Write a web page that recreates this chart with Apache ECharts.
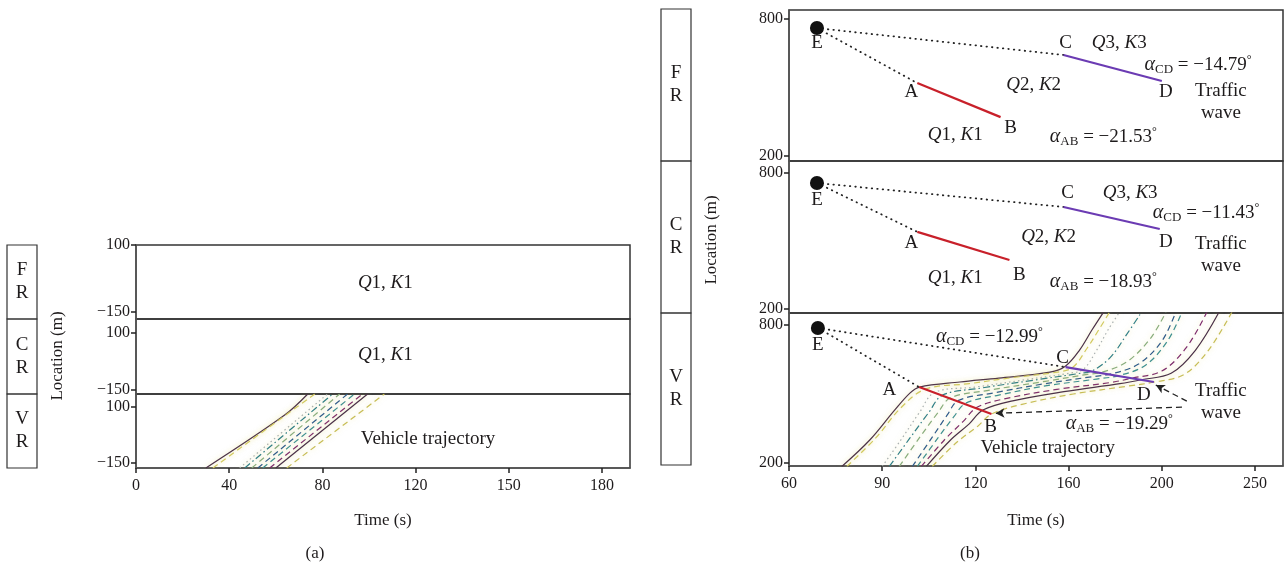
<!DOCTYPE html>
<html><head><meta charset="utf-8">
<script src="https://cdn.jsdelivr.net/npm/echarts@6/dist/echarts.min.js"></script>
<style>html,body{margin:0;padding:0;background:#fff}#c{width:1286px;height:573px}</style>
</head><body><div id="c"></div>
<script>
// ---------- DATA ----------
const ticksA = [0, 40, 80, 120, 150, 180];          // x tick labels panel (a), evenly spaced
const ticksB = [60, 90, 120, 160, 200, 250];        // x tick labels panel (b), evenly spaced
const yTicksA = [100, -150];
const yTicksB = [800, 200];
const rowNames = ['F\nR', 'C\nR', 'V\nR'];
const yRangeA = [[-176, 100], [-167.5, 161.4], [-172.3, 158]];
const yRangeB = [[178, 839], [182, 853], [187, 852]];

// panel (a) VR trajectories [time s, location m]
const trajA = [
  [[30.0, -172], [63.8, 64], [73.7, 158]],
  [[33.0, -172], [76.7, 158]],
  [[44.5, -172], [82.2, 158]],
  [[46.7, -172], [84.4, 158]],
  [[49.7, -172], [87.4, 158]],
  [[52.3, -172], [90.8, 158]],
  [[54.4, -172], [93.8, 158]],
  [[57.4, -172], [97.2, 158]],
  [[60.0, -172], [99.4, 158]],
  [[64.7, -172], [106.6, 158]]
];
// panel (b) VR trajectories
const trajB = [
  [[77,185],[86,300],[94,430],[99,505],[102,530],[115,552],[130,569],[152,595],[158.6,621],[164.7,691],[170,778],[175,856]],
  [[78.6,185],[88,310],[96,440],[103.9,521],[118,545],[135,570],[155,595],[161.7,615],[168,700],[173,780],[177.6,856]],
  [[90,185],[96,300],[102,420],[106.9,507],[120,530],[140,560],[160,590],[166.3,607],[172,690],[177,780],[181.9,856]],
  [[92.3,185],[99,310],[105,420],[109.4,495],[122,525],[145,560],[165,590],[170.1,600],[178,660],[185,760],[191.3,856]],
  [[95.5,185],[102,310],[108,420],[111.9,483],[125,515],[150,555],[168,585],[173.9,593],[185,640],[195,740],[202.2,856]],
  [[99.7,185],[106,310],[111,410],[114.4,471],[128,505],[150,545],[170,575],[177.8,586],[190,630],[200,730],[207.5,856]],
  [[101.3,185],[108,310],[113,400],[116.9,460],[130,495],[150,535],[172,565],[181.6,580],[193,625],[203,730],[210.8,856]],
  [[102.6,185],[110,300],[116,380],[120.7,442],[133,480],[155,520],[178,550],[187.3,569],[200,600],[213,700],[224.2,856]],
  [[104.2,185],[112,300],[118,370],[123.2,430],[136,470],[158,510],[182,545],[191.2,562],[205,590],[218,690],[230.7,856]],
  [[106.1,185],[114,290],[121,360],[126.9,413],[140,455],[162,500],[186,535],[196.9,552],[212,585],[225,690],[237.6,856]]
];
// wave points per row of panel (b)
const pointsE = [[69.0, 760], [69.0, 756], [69.3, 787]];
const pointsA = [[101.3, 519], [101.3, 540], [101.9, 530]];
const pointsB = [[130.8, 370], [134.6, 416], [126.9, 413]];
const pointsC = [[157.8, 642], [157.8, 650], [158.7, 617]];
const pointsD = [[200.0, 528], [199.1, 553], [196.6, 552]];
const arrowsB3 = [[[210.8, 443], [128.6, 416]], [[213.4, 469], [197.4, 539]]];

// annotation texts [text, time, location]
const notesA = [
  [['{i|Q}1, {i|K}1', 107, -42]],
  [['{i|Q}1, {i|K}1', 107, 3]],
  [['Vehicle trajectory', 124, -43]]
];
const notesB = [
  [['E',69.0,694],['A',99.4,480],['B',135.1,322],['C',158.7,694],['D',202.2,480],
   ['{i|Q}3, {i|K}3',181.7,694],['{i|Q}2, {i|K}2',145,510],['{i|Q}1, {i|K}1',113.5,292],
   ['{a|α}{s|AB} = −21.53{d|°}',174.9,283],['{a|α}{s|CD} = −14.79{d|°}',219.4,598],['Traffic\nwave',231.7,436]],
  [['E',69.0,681],['A',99.4,491],['B',138.9,350],['C',159.6,712],['D',202.2,496],
   ['{i|Q}3, {i|K}3',186.4,712],['{i|Q}2, {i|K}2',151.4,518],['{i|Q}1, {i|K}1',113.5,337],
   ['{a|α}{s|AB} = −18.93{d|°}',174.9,319],['{a|α}{s|CD} = −11.43{d|°}',223.7,624],['Traffic\nwave',231.7,438]],
  [['E',69.3,713],['A',92.3,517],['B',126.5,356],['C',157.4,656],['D',192.3,495],
   ['{a|α}{s|CD} = −12.99{d|°}',126,748],['{a|α}{s|AB} = −19.29{d|°}',181.7,369],
   ['Traffic\nwave',231.7,465],['Vehicle trajectory',151,265]]
];

// ---------- helpers ----------
function toIdx(t, ticks) {
  let i = 0;
  while (i < ticks.length - 2 && t > ticks[i + 1]) i++;
  return i + (t - ticks[i]) / (ticks[i + 1] - ticks[i]);
}
const FONT = '"Liberation Serif","DejaVu Serif",serif';
const TXT = '#1e1b1c';
const trajStyles = [
  {color:'#4a3048', type:'solid', width:1.2},
  {color:'#d2c95e', type:[6,4], width:1.2},
  {color:'#a9b0b0', type:[1.5,3], width:1.2},
  {color:'#2f7e86', type:[7,3,1.5,3], width:1.2},
  {color:'#88ad7c', type:[6,4], width:1.2},
  {color:'#2f5b8c', type:[6,4], width:1.2},
  {color:'#3e9090', type:[6,4], width:1.2},
  {color:'#7d2a6c', type:[6,4], width:1.2},
  {color:'#4a3048', type:'solid', width:1.2},
  {color:'#c7bd55', type:[6,4], width:1.2}
];
const NB = {textBorderWidth: 0, textBorderColor: 'transparent', textShadowBlur: 0};
const rich = {
  i: Object.assign({fontFamily: FONT, fontSize: 19, fontStyle: 'italic', color: TXT}, NB),
  a: Object.assign({fontFamily: FONT, fontSize: 20, fontStyle: 'italic', color: TXT}, NB),
  s: Object.assign({fontFamily: FONT, fontSize: 13, color: TXT, verticalAlign: 'bottom', lineHeight: 13}, NB),
  d: Object.assign({fontFamily: FONT, fontSize: 12, color: TXT, verticalAlign: 'top', lineHeight: 12}, NB)
};

// ---------- layout ----------
const gridA = [{top:245,height:74},{top:319,height:75},{top:394,height:74}];
const gridB = [{top:10,height:151},{top:161,height:152},{top:313,height:153}];
const grids = [], xAxes = [], yAxes = [], series = [];

function addPanel(gl, left, ticks, yTicks, yRange) {
  gl.forEach((g, r) => {
    const gi = grids.length;
    grids.push({left: left, width: 494, top: g.top, height: g.height, show: true,
      borderColor: '#333', borderWidth: 1.5, backgroundColor: 'transparent'});
    const bottom = r === gl.length - 1;
    xAxes.push({type: 'value', gridIndex: gi, min: 0, max: 5.3,
      splitLine: {show: false},
      axisLine: {show: bottom, onZero: false, lineStyle: {color: '#555', width: 1.5}},
      axisTick: {show: bottom, customValues: [0,1,2,3,4,5], length: 5, lineStyle: {color: '#222', width: 1.5}},
      axisLabel: {show: bottom, customValues: [0,1,2,3,4,5], formatter: v => String(ticks[Math.round(v)]),
        fontFamily: FONT, fontSize: 16, color: TXT, margin: 10}
    });
    yAxes.push({type: 'value', gridIndex: gi, min: yRange[r][0], max: yRange[r][1],
      splitLine: {show: false},
      axisLine: {show: true, onZero: false, lineStyle: {color: '#555', width: 1.5}},
      axisTick: {show: true, customValues: yTicks, length: 5, lineStyle: {color: '#222', width: 1.5}},
      axisLabel: {customValues: yTicks, formatter: v => String(v).replace('-', '−'),
        fontFamily: FONT, fontSize: 16, color: TXT, margin: 6}
    });
  });
}
addPanel(gridA, 136, ticksA, yTicksA, yRangeA);
addPanel(gridB, 789, ticksB, yTicksB, yRangeB);

function conv(pts, ticks) { return pts.map(p => [toIdx(p[0], ticks), p[1]]); }

function trajSeries(list, gi, ticks) {
  list.forEach((tr, k) => {
    const st = trajStyles[k % trajStyles.length];
    series.push({type: 'line', xAxisIndex: gi, yAxisIndex: gi, data: conv(tr, ticks),
      showSymbol: false, symbol: 'none', smooth: 0.35, silent: true, clip: true,
      lineStyle: {color: st.color, type: st.type, width: st.width,
        shadowBlur: 5, shadowColor: 'rgba(225,215,110,0.55)'}});
  });
}
trajSeries(trajA, 2, ticksA);
trajSeries(trajB, 5, ticksB);

function noteSeries(notes, gi, ticks) {
  series.push({type: 'scatter', xAxisIndex: gi, yAxisIndex: gi, symbolSize: 0, silent: true, z: 10,
    itemStyle: {color: 'transparent', opacity: 1},
    data: notes.map(n => ({value: [toIdx(n[1], ticks), n[2]], label: {formatter: n[0]}})),
    label: Object.assign({show: true, position: 'inside', align: 'center', verticalAlign: 'middle',
      fontFamily: FONT, fontSize: 19, color: TXT, lineHeight: 22, rich: rich}, NB)});
}
notesA.forEach((n, r) => noteSeries(n, r, ticksA));
notesB.forEach((n, r) => noteSeries(n, 3 + r, ticksB));

for (let r = 0; r < 3; r++) {
  const gi = 3 + r;
  const E = pointsE[r], A = pointsA[r], B = pointsB[r], C = pointsC[r], D = pointsD[r];
  [[E, A], [E, C]].forEach(seg => series.push({type: 'line', xAxisIndex: gi, yAxisIndex: gi,
    data: conv(seg, ticksB), symbol: 'none', silent: true, z: 4,
    lineStyle: {color: '#222', width: 1.8, type: [0.5, 5], cap: 'round'}}));
  series.push({type: 'line', xAxisIndex: gi, yAxisIndex: gi, data: conv([A, B], ticksB),
    symbol: 'none', silent: true, z: 5, lineStyle: {color: '#c8202a', width: 2.2}});
  series.push({type: 'line', xAxisIndex: gi, yAxisIndex: gi, data: conv([C, D], ticksB),
    symbol: 'none', silent: true, z: 5, lineStyle: {color: '#6b3bb3', width: 2.2}});
  series.push({type: 'scatter', xAxisIndex: gi, yAxisIndex: gi, data: conv([E], ticksB),
    symbolSize: 14, silent: true, z: 8, itemStyle: {color: '#111', opacity: 1}});
}
series.push({type: 'line', xAxisIndex: 5, yAxisIndex: 5, data: [], silent: true,
  markLine: {silent: true, symbol: ['none', 'arrow'], symbolSize: [7, 9],
    label: {show: false},
    lineStyle: {color: '#222', width: 1.3, type: [6, 4]},
    data: arrowsB3.map(a => [{coord: [toIdx(a[0][0], ticksB), a[0][1]]}, {coord: [toIdx(a[1][0], ticksB), a[1][1]]}])}});

// ---------- decorations (boxes, axis names, captions) ----------
const graphic = [];
function boxes(x, rows) {
  rows.forEach((rw, i) => {
    graphic.push({type: 'rect', shape: {x: x, y: rw[0], width: 30, height: rw[1] - rw[0]},
      style: {fill: 'none', stroke: '#333', lineWidth: 1.2}});
    graphic.push({type: 'text', x: x + 15, y: (rw[0] + rw[1]) / 2,
      style: {text: rowNames[i], font: '19px ' + FONT, fill: TXT, align: 'center', verticalAlign: 'middle', lineHeight: 23}});
  });
}
boxes(7, [[245, 319], [319, 394], [394, 468]]);
boxes(661, [[9, 161], [161, 313], [313, 465]]);
function txt(s, x, y, rot) {
  graphic.push({type: 'text', x: x, y: y, rotation: rot || 0,
    style: {text: s, font: '17px ' + FONT, fill: TXT, align: 'center', verticalAlign: 'middle'}});
}
txt('Location (m)', 58, 356, Math.PI / 2);
txt('Location (m)', 712, 240, Math.PI / 2);
txt('Time (s)', 383, 521);
txt('Time (s)', 1036, 521);
txt('(a)', 315, 554);
txt('(b)', 970, 554);

const chart = echarts.init(document.getElementById('c'), null, {renderer: 'canvas'});
chart.setOption({animation: false, backgroundColor: '#fff', grid: grids, xAxis: xAxes, yAxis: yAxes, series: series, graphic: graphic});
</script></body></html>
